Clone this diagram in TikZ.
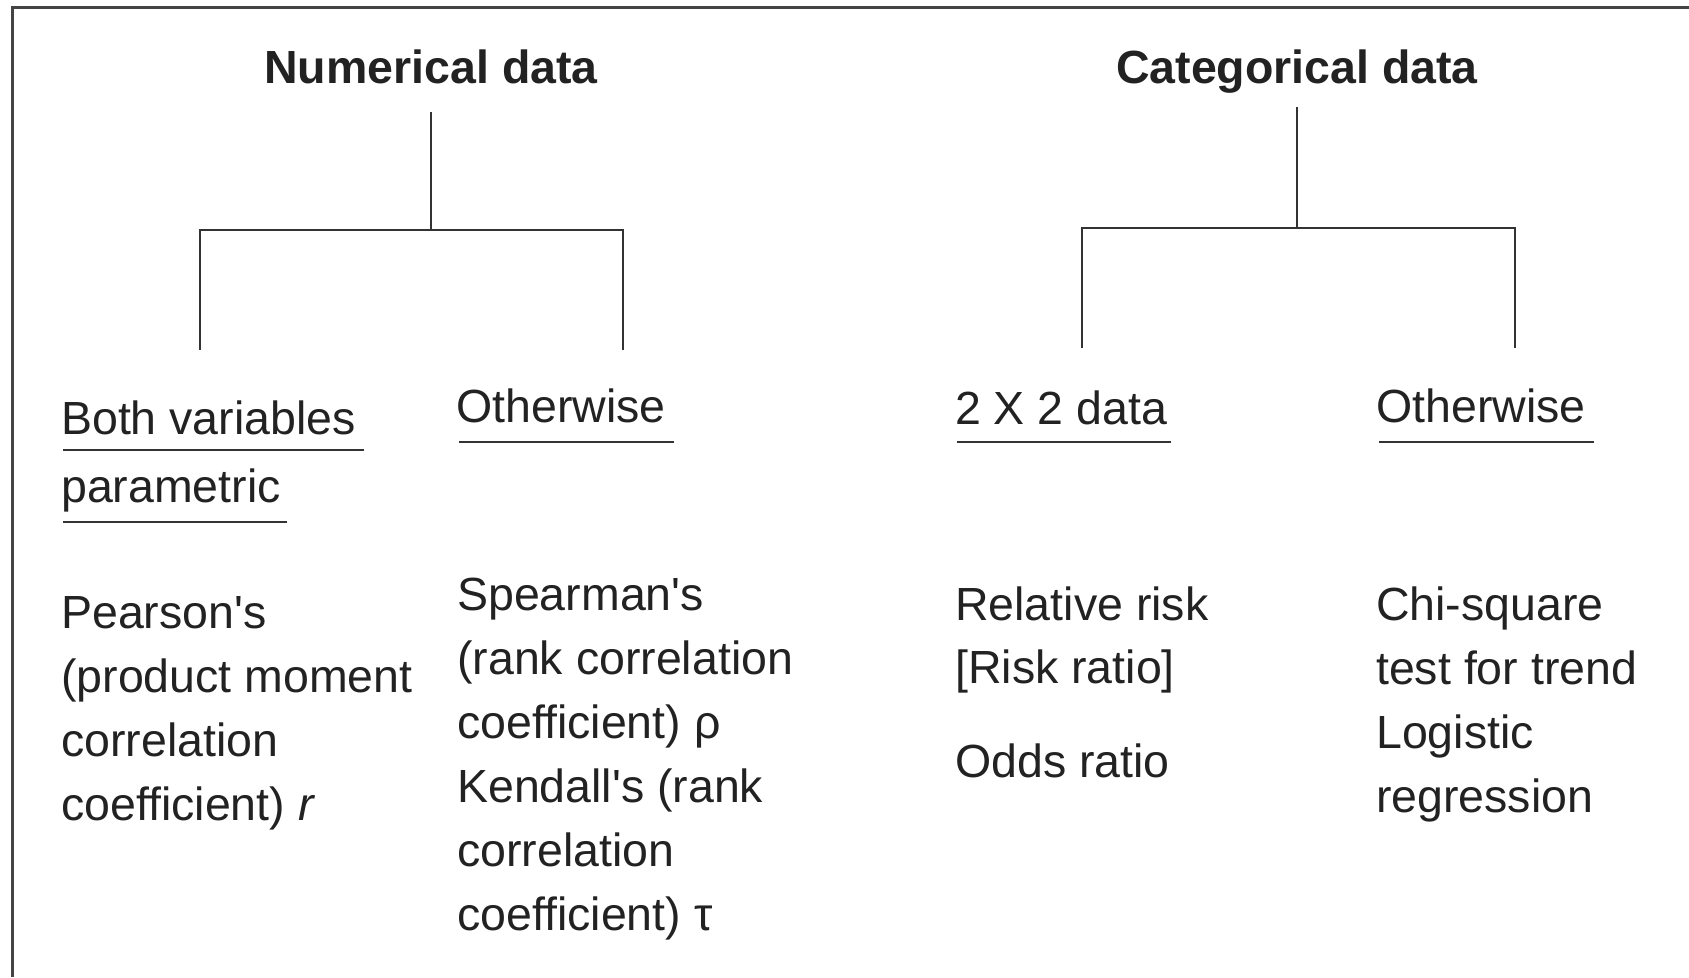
\documentclass[tikz,border=0pt]{standalone}
\usepackage{fontspec}
\setmainfont{Liberation Sans}
\usetikzlibrary{calc}
\definecolor{ink}{HTML}{222222}
\definecolor{rulec}{HTML}{333333}
\definecolor{framec}{HTML}{444444}
\begin{document}
\begin{tikzpicture}[x=1pt,y=-1pt,
  txt/.style={font=\fontsize{46.5}{56}\selectfont, text=ink, inner sep=0pt, anchor=base west},
  ttl/.style={font=\fontsize{46.5}{56}\selectfont\bfseries, text=ink, inner sep=0pt, anchor=base, text depth=0pt},
  conn/.style={draw=rulec, line width=2pt, line join=miter},
  uline/.style={draw=rulec, line width=2.4pt},
  frameline/.style={draw=framec, line width=3pt}]

\useasboundingbox (0,0) rectangle (1689,977);
\fill[white] (0,0) rectangle (1689,977);

% frame (top and left edges visible)
\coordinate (frTR) at (1689,7.5);
\coordinate (frTL) at (12.5,7.5);
\coordinate (frBL) at (12.5,977);
\draw[frameline] (frTR) -- (frTL) -- (frBL);

% titles
\node[ttl] (num) at (431,83) {Numerical data};
\node[ttl] (cat) at (1297,83) {Categorical data};

% numerical tree
\coordinate (numj) at (431,230);
\coordinate (numL) at (200,230);
\coordinate (numR) at (623,230);
\coordinate (numLe) at (200,350);
\coordinate (numRe) at (623,350);
\draw[conn] (num.base) ++(0,29) -- (numj);
\draw[conn] (numLe) -- (numL) -- (numR) -- (numRe);

% categorical tree
\coordinate (catj) at (1297,228);
\coordinate (catL) at (1082,228);
\coordinate (catR) at (1515,228);
\coordinate (catLe) at (1082,348);
\coordinate (catRe) at (1515,348);
\draw[conn] (cat.base) ++(0,24) -- (catj);
\draw[conn] (catLe) -- (catL) -- (catR) -- (catRe);

% branch headers
\node[txt] (bv) at (61,434) {Both variables};
\node[txt] (pm) at (61,502) {parametric};
\node[txt] (ow1) at (456,422) {Otherwise};
\node[txt] (tt) at (955,424) {2 X 2 data};
\node[txt] (ow2) at (1376,422) {Otherwise};

\draw[uline] ($(bv.base west)+(2,16)$) -- ($(bv.base east)+(8,16)$);
\draw[uline] ($(pm.base west)+(2,20)$) -- ($(pm.base east)+(6,20)$);
\draw[uline] ($(ow1.base west)+(3,20)$) -- ($(ow1.base east)+(8,20)$);
\draw[uline] ($(tt.base west)+(2,18)$) -- ($(tt.base east)+(4,18)$);
\draw[uline] ($(ow2.base west)+(3,20)$) -- ($(ow2.base east)+(8,20)$);

% leaf texts
\foreach \t [count=\i] in {{Pearson\textquotesingle s}, {(product moment}, {correlation}, {coefficient) \textit{r}}}
  \node[txt] (pe\i) at (61,{628+64*(\i-1)}) {\t};

\foreach \t [count=\i] in {{Spearman\textquotesingle s}, {(rank correlation}, {coefficient) ρ}, {Kendall\textquotesingle s (rank}, {correlation}, {coefficient) τ}}
  \node[txt] (sp\i) at (457,{610+64*(\i-1)}) {\t};

\node[txt] (rr1) at (955,620) {Relative risk};
\node[txt] (rr2) at (955,683) {[Risk ratio]};
\node[txt] (odds) at (955,777) {Odds ratio};

\foreach \t [count=\i] in {{Chi-square}, {test for trend}, {Logistic}, {regression}}
  \node[txt] (ch\i) at (1376,{620+64.3*(\i-1)}) {\t};

\end{tikzpicture}
\end{document}
